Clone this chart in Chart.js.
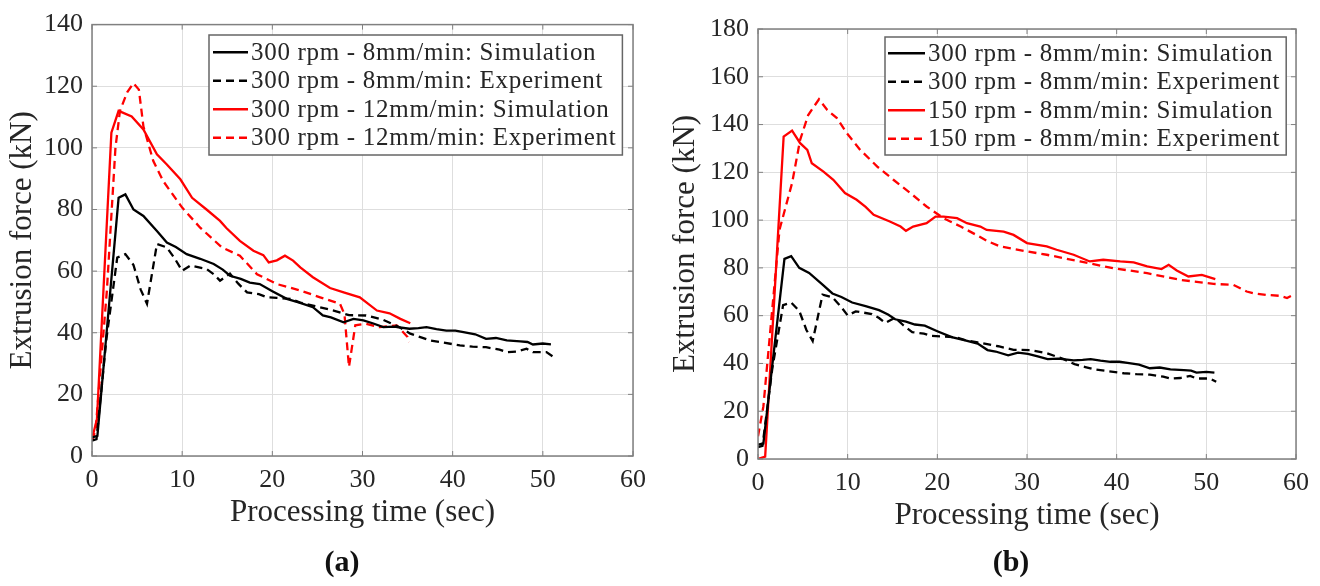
<!DOCTYPE html>
<html>
<head>
<meta charset="utf-8">
<script src="https://cdn.jsdelivr.net/npm/chart.js@4.4.0/dist/chart.umd.min.js"></script>
<style>
  body { margin: 0; background: #fff; width: 1320px; height: 586px; overflow: hidden; position: relative; }
  .panel { position: absolute; top: 0; width: 660px; height: 586px; }
  .cap { position: absolute; top: 544px; width: 80px; text-align: center; font: bold 30px "Liberation Serif", serif; color: #111; }
</style>
</head>
<body>
<div class="panel" style="left:0"><canvas id="chartA"></canvas></div>
<div class="panel" style="left:660px"><canvas id="chartB"></canvas></div>
<div class="cap" style="left:302px">(a)</div>
<div class="cap" style="left:971px">(b)</div>
<script>
// time ticks and force ticks
const timeTicks = [0, 10, 20, 30, 40, 50, 60];
const forceMaxA = 140;
const forceMaxB = 180;

// 300 rpm - 8mm/min (shared by both panels)
const t300Sim = [0, 0.6, 2.95, 3.7, 4.6, 5.7, 7.2, 8.3, 9.3, 10.5, 12.0, 13.5, 14.5, 15.3, 16.5, 17.5, 18.6, 20.0, 21.6, 23.0,
  24.5, 25.6, 26.5, 27.9, 29.0, 30.1, 31.2, 32.3, 33.5, 35.2, 36.2, 37.1, 38.2, 39.3, 40.3, 41.2, 42.5, 43.7, 44.8, 46.0,
  47.5, 48.3, 48.9, 50.0, 50.9];
const f300Sim = [6, 6.5, 83.8, 84.9, 80, 77.9, 73, 69.3, 67.8, 65.5, 64, 62.3, 60.5, 58.5, 57.5, 56.3, 55.8, 53.5, 51, 49.8,
  48.3, 45.6, 45, 43.4, 44.5, 44, 43, 41.8, 42, 41.3, 41.5, 41.8, 41.2, 40.7, 40.7, 40.2, 39.5, 38.0, 38.3, 37.5,
  37.2, 37.0, 36.2, 36.5, 36.2];

const t300Exp = [0, 0.5, 1.6, 2.8, 3.7, 4.6, 5.4, 6.1, 6.7, 7.2, 8.3, 9.2, 10.0, 10.9, 12.7, 13.5, 14.2, 15.3, 16.2, 17.2,
  18.5, 19.4, 20.5, 22.0, 23.1, 24.5, 26.8, 28.5, 30.4, 32.2, 34.1, 35.3, 36.5, 37.5, 39.0, 40.8, 42.2, 43.7, 45.2, 46.0,
  47.1, 48.2, 48.9, 50.4, 51.1];
const f300Exp = [5, 5.5, 38, 64.4, 65.5, 62, 54, 49.4, 60, 68.8, 67.7, 64, 60.1, 61.8, 60.7, 59, 56.9, 59.2, 56, 53.1,
  52.5, 51.5, 51.3, 51, 49.8, 48.8, 47.2, 45.7, 45.6, 44.3, 41.8, 39.7, 38.5, 37.5, 36.8, 35.9, 35.5, 35.3, 34.5, 33.7,
  33.9, 34.8, 33.7, 33.7, 32.3];

// panel (a): 300 rpm - 12mm/min
const t12Sim = [0, 0.55, 2.15, 2.95, 4.4, 5.7, 7.2, 8.3, 9.8, 11.1, 12.7, 14.2, 14.9, 16.4, 17.9, 19.0, 19.6, 20.5, 21.4, 22.3,
  23.1, 24.5, 26.4, 28.0, 29.7, 31.6, 33.0, 34.2, 35.3];
const f12Sim = [5.5, 12, 104.9, 112, 110.2, 106, 97.9, 94.6, 89.8, 83.8, 80, 76.3, 74, 69.8, 66.6, 65.2, 62.8, 63.5, 65, 63.4,
  61.2, 58, 54.5, 53, 51.5, 47.2, 46.3, 44.5, 43.1];

const t12Exp = [0, 0.4, 1.65, 2.6, 3.1, 3.9, 4.6, 5.2, 5.7, 6.8, 7.9, 10.0, 12.0, 14.4, 16.4, 18.3, 20.5, 23.1, 25.3, 27.5,
  28.0, 28.5, 29.2, 30.4, 31.9, 33.8, 35.0, 35.2];
const f12Exp = [5, 8.4, 53.7, 100, 112, 118, 121, 118.9, 107, 95.7, 89.2, 80.6, 74.1, 67.7, 65, 59, 55.8, 53.7, 51.5, 49.4,
  46, 28.9, 42.4, 42.9, 41.8, 42.4, 38.6, 37];

// panel (b): 150 rpm - 8mm/min
const t150Sim = [0, 0.8, 2.86, 3.8, 4.7, 5.5, 6.0, 7.3, 8.4, 9.7, 11.0, 12.0, 12.9, 14.7, 15.9, 16.5, 17.3, 18.8, 19.8, 20.7,
  22.2, 23.3, 24.8, 25.5, 27.4, 28.5, 30.0, 32.2, 33.3, 35.2, 37.0, 38.5, 40.4, 41.9, 43.4, 45.0, 45.8, 46.7, 48.0, 49.5,
  51.0];
const f150Sim = [0, 1, 135, 137.5, 132.2, 129.4, 123.8, 120.3, 116.9, 111.3, 108.5, 105.5, 102.2, 99.4, 97.3, 95.5, 97.3, 98.7, 101.5, 101.5,
  100.8, 98.7, 97.3, 95.9, 95.2, 93.8, 90.4, 89, 87.6, 85.5, 82.7, 83.4, 82.7, 82.3, 80.6, 79.5, 81.3, 78.9, 76.4, 77.1,
  75.3];

const t150Exp = [0, 0.6, 2.4, 3.8, 4.7, 5.6, 6.8, 7.7, 8.8, 9.9, 11.4, 13.3, 15.1, 17.0, 18.8, 20.7, 22.6, 24.5, 25.7, 27.0,
  30.0, 32.2, 35.9, 39.6, 43.4, 47.1, 50.8, 53.0, 54.5, 55.2, 56.7, 58.2, 59.0, 59.7];
const f150Exp = [9.5, 22, 96, 115.5, 133.6, 144, 150.6, 146.2, 142.7, 136.4, 129.4, 122.4, 116.9, 111.3, 105.7, 100.8, 97.3, 93.5, 91, 89,
  86.9, 85.5, 82.7, 79.9, 77.8, 75, 73.3, 72.9, 70.1, 69.4, 68.7, 68.3, 67.4, 68.7];

const serif = '"Liberation Serif", "Times New Roman", serif';
const textColor = '#262626';

function pts(t, f) {
  return t.map((x, i) => ({ x: x, y: f[i] }));
}

function line(label, t, f, color, dashed) {
  return {
    label: label,
    data: pts(t, f),
    borderColor: color,
    backgroundColor: color,
    borderWidth: 2.3,
    borderDash: dashed ? [8, 5] : [],
    pointRadius: 0,
    tension: 0,
    fill: false
  };
}

// MATLAB style frame with ticks pointing inward
const boxPlugin = {
  id: 'matlabBox',
  afterDatasetsDraw(chart) {
    const { ctx, chartArea: a, scales: { x, y } } = chart;
    ctx.save();
    ctx.strokeStyle = '#808080';
    ctx.lineWidth = 1;
    ctx.beginPath();
    x.ticks.forEach(t => {
      const px = x.getPixelForValue(t.value);
      ctx.moveTo(px, a.bottom); ctx.lineTo(px, a.bottom - 5);
      ctx.moveTo(px, a.top); ctx.lineTo(px, a.top + 5);
    });
    y.ticks.forEach(t => {
      const py = y.getPixelForValue(t.value);
      ctx.moveTo(a.left, py); ctx.lineTo(a.left + 5, py);
      ctx.moveTo(a.right, py); ctx.lineTo(a.right - 5, py);
    });
    ctx.stroke();
    ctx.lineWidth = 1.5;
    ctx.strokeRect(a.left, a.top, a.right - a.left, a.bottom - a.top);
    ctx.restore();
  }
};

const legendPlugin = {
  id: 'insideLegend',
  afterDraw(chart, args, o) {
    const ctx = chart.ctx;
    const sets = chart.data.datasets;
    ctx.save();
    ctx.font = '25px ' + serif;
    ctx.letterSpacing = '0.7px';
    const textW = Math.max(...sets.map(d => ctx.measureText(d.label).width));
    const w = o.sampleGap + o.sampleLen + o.textGap + textW + 6;
    const h = o.rowH * sets.length + o.padV * 2;
    ctx.fillStyle = '#fff';
    ctx.fillRect(o.left, o.top, w, h);
    ctx.strokeStyle = '#666';
    ctx.lineWidth = 1.5;
    ctx.strokeRect(o.left, o.top, w, h);
    sets.forEach((d, i) => {
      const cy = o.top + o.padV + o.rowH * (i + 0.5);
      ctx.strokeStyle = d.borderColor;
      ctx.lineWidth = 2.5;
      ctx.setLineDash(d.borderDash);
      ctx.beginPath();
      ctx.moveTo(o.left + o.sampleGap, cy);
      ctx.lineTo(o.left + o.sampleGap + o.sampleLen, cy);
      ctx.stroke();
      ctx.setLineDash([]);
      ctx.fillStyle = textColor;
      ctx.textBaseline = 'middle';
      ctx.fillText(d.label, o.left + o.sampleGap + o.sampleLen + o.textGap, cy + 1);
    });
    ctx.restore();
  }
};

function makeChart(id, datasets, yMax, pad, yWidth, legend) {
  new Chart(document.getElementById(id), {
    type: 'line',
    data: { datasets: datasets },
    options: {
      responsive: true,
      maintainAspectRatio: false,
      animation: false,
      layout: { padding: pad },
      plugins: {
        legend: { display: false },
        tooltip: { enabled: false },
        insideLegend: legend
      },
      scales: {
        x: {
          type: 'linear',
          min: 0,
          max: 60,
          afterBuildTicks: s => { s.ticks = timeTicks.map(v => ({ value: v })); },
          afterFit: s => { s.height = 75; },
          grid: { color: '#dedede', lineWidth: 1, drawTicks: false },
          border: { display: false },
          ticks: { padding: 9, color: textColor, font: { family: serif, size: 26 } },
          title: { display: true, text: 'Processing time (sec)', color: textColor, padding: 0, font: { family: serif, size: 31 } }
        },
        y: {
          min: 0,
          max: yMax,
          afterFit: s => { s.width = yWidth; },
          grid: { color: '#dedede', lineWidth: 1, drawTicks: false },
          border: { display: false },
          ticks: { stepSize: 20, padding: 9, color: textColor, font: { family: serif, size: 26 } },
          title: { display: true, text: 'Extrusion force (kN)', color: textColor, padding: 0, font: { family: serif, size: 31 } }
        }
      }
    },
    plugins: [boxPlugin, legendPlugin]
  });
}

makeChart('chartA', [
  line('300 rpm - 8mm/min: Simulation', t300Sim, f300Sim, '#000000', false),
  line('300 rpm - 8mm/min: Experiment', t300Exp, f300Exp, '#000000', true),
  line('300 rpm - 12mm/min: Simulation', t12Sim, f12Sim, '#ff0000', false),
  line('300 rpm - 12mm/min: Experiment', t12Exp, f12Exp, '#ff0000', true)
], forceMaxA, { left: 4, top: 23, right: 27, bottom: 55 }, 88,
  { left: 209, top: 35, rowH: 28.5, padV: 3, sampleGap: 4, sampleLen: 35, textGap: 3 });

makeChart('chartB', [
  line('300 rpm - 8mm/min: Simulation', t300Sim, f300Sim, '#000000', false),
  line('300 rpm - 8mm/min: Experiment', t300Exp, f300Exp, '#000000', true),
  line('150 rpm - 8mm/min: Simulation', t150Sim, f150Sim, '#ff0000', false),
  line('150 rpm - 8mm/min: Experiment', t150Exp, f150Exp, '#ff0000', true)
], forceMaxB, { left: 7, top: 29, right: 24, bottom: 52 }, 91,
  { left: 225, top: 37, rowH: 28.5, padV: 2, sampleGap: 3, sampleLen: 37, textGap: 3 });
</script>
</body>
</html>
